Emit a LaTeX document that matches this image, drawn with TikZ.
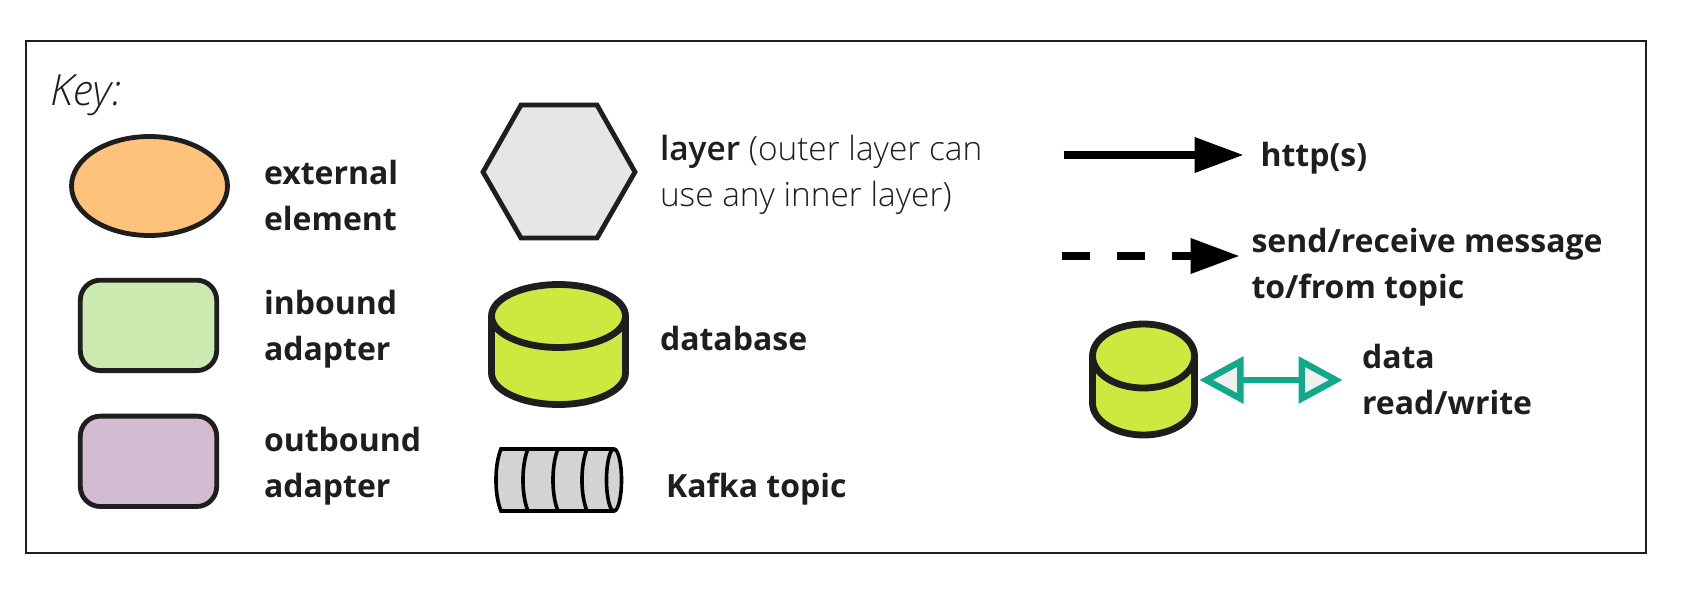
\documentclass[tikz,border=0pt]{standalone}
\usepackage{fontspec}
\setmainfont{Open Sans}
\newfontfamily\lightfont{Open Sans Light}
\usetikzlibrary{arrows.meta,shapes.geometric}
\definecolor{ink}{HTML}{1E1E1E}
\definecolor{orangefill}{HTML}{FFC27A}
\definecolor{greenfill}{HTML}{CBEAB0}
\definecolor{purplefill}{HTML}{D1BCD2}
\definecolor{limefill}{HTML}{CDE83F}
\definecolor{hexfill}{HTML}{E6E6E6}
\definecolor{kafkafill}{HTML}{D3D3D3}
\definecolor{teal2}{HTML}{12A88A}
\definecolor{headfill}{HTML}{F0F0F0}
\tikzset{
  x=0.5pt,y=0.5pt,
  shapeline/.style={draw=ink,line width=2.4pt},
  adapterbox/.style={shapeline,rounded corners=10pt,minimum width=68.2pt,minimum height=45.2pt,inner sep=0pt,outer sep=0pt},
  dbline/.style={draw=ink,line width=3.4pt,fill=limefill,line join=round},
  kafkaline/.style={draw=black,line width=1.8pt},
  lbl/.style={font=\fontsize{16}{23}\selectfont\bfseries,text=ink,inner sep=0pt,outer sep=0pt,align=left},
  lightlbl/.style={font=\fontsize{16.7}{23}\selectfont\lightfont,text=ink,inner sep=0pt,outer sep=0pt,align=left},
}
\begin{document}
\begin{tikzpicture}
\useasboundingbox (0,0) rectangle (1695,-589);
\fill[white] (0,0) rectangle (1695,-589);
\node[draw=ink,line width=1pt,minimum width=809.75pt,minimum height=255.9pt,inner sep=0pt,outer sep=0pt,anchor=north west] (frame) at (26,-41) {};
\node[anchor=base west,inner sep=0pt,text=ink,font=\fontsize{21.5}{23}\selectfont\lightfont\itshape] (keylabel) at (50,-105) {Key:};
% left column
\node[shapeline,fill=orangefill,shape=ellipse,minimum width=78pt,minimum height=49.5pt,inner sep=0pt,outer sep=0pt] (ext) at (149.5,-186) {};
\node[adapterbox,fill=greenfill] (inb) at (148.5,-325.4) {};
\node[adapterbox,fill=purplefill] (outb) at (148.5,-461.3) {};
\node[lbl,anchor=west] (extl) at (264,-198) {\strut external\\\strut element};
\node[lbl,anchor=west] (inbl) at (264,-328) {\strut inbound\\\strut adapter};
\node[lbl,anchor=west] (outl) at (264,-465) {\strut outbound\\\strut adapter};
% middle column
\draw[shapeline,fill=hexfill,line join=miter] (483,-172) -- (521,-105) -- (597,-105) -- (635,-172) -- (597,-238) -- (521,-238) -- cycle;
\node[lightlbl,anchor=west] (layerl) at (660,-174.5) {\strut{\bfseries layer} (outer layer can\\\strut use any inner layer)};
\draw[dbline] (491.5,-316) -- (491.5,-373) arc[start angle=180,end angle=360,x radius=67,y radius=31.5] -- (625.5,-316) arc[start angle=0,end angle=180,x radius=67,y radius=31.5] -- cycle;
\draw[draw=ink,line width=3.4pt] (491.5,-316) arc[start angle=180,end angle=360,x radius=67,y radius=31.5];
\node[lbl,anchor=base west] (dbl) at (660,-350) {database};
% kafka
\draw[kafkaline,fill=kafkafill] (501,-449) -- (614,-449) arc[start angle=90,end angle=-90,x radius=7.5,y radius=31] -- (501,-511) .. controls (494.3,-495) and (494.3,-465) .. (501,-449) -- cycle;
\draw[kafkaline] (528,-449) .. controls (521.3,-465) and (521.3,-495) .. (528,-511);
\draw[kafkaline] (558,-449) .. controls (551.3,-465) and (551.3,-495) .. (558,-511);
\draw[kafkaline] (587,-449) .. controls (580.3,-465) and (580.3,-495) .. (587,-511);
\draw[kafkaline] (614,-449) arc[start angle=90,end angle=270,x radius=7.5,y radius=31];
\node[lbl,anchor=base west] (kafl) at (666,-497) {Kafka topic};
% right column
\coordinate (h1) at (1063.5,-155);
\coordinate (h2) at (1243.5,-155);
\draw[line width=3.6pt,black,-{Triangle[length=24.5pt,width=17pt]}] (h1) -- (h2);
\node[lbl,anchor=base west] (httpl) at (1260.5,-166) {http(s)};
\coordinate (d1) at (1061.5,-256);
\coordinate (d2) at (1239.5,-256);
\draw[line width=3.6pt,black,dash pattern=on 14pt off 13.5pt,-{Triangle[length=24.5pt,width=17pt]}] (d1) -- (d2);
\node[lbl,anchor=west] (sendl) at (1251.5,-266.5) {\strut send/receive message\\\strut to/from topic};
\draw[dbline] (1092.5,-356) -- (1092.5,-403) arc[start angle=180,end angle=360,x radius=51,y radius=32] -- (1194.5,-356) arc[start angle=0,end angle=180,x radius=51,y radius=32] -- cycle;
\draw[draw=ink,line width=3.4pt] (1092.5,-356) arc[start angle=180,end angle=360,x radius=51,y radius=32];
\coordinate (cylr) at (1199.5,-380);
\coordinate (rw) at (1342.5,-380);
\draw[teal2,line width=3.2pt,{Triangle[open,fill=headfill,length=22pt,width=23pt]}-{Triangle[open,fill=headfill,length=22pt,width=23pt]}] (cylr) -- (rw);
\node[lbl,anchor=west] (datal) at (1362,-382) {\strut data\\\strut read/write};
\end{tikzpicture}
\end{document}
